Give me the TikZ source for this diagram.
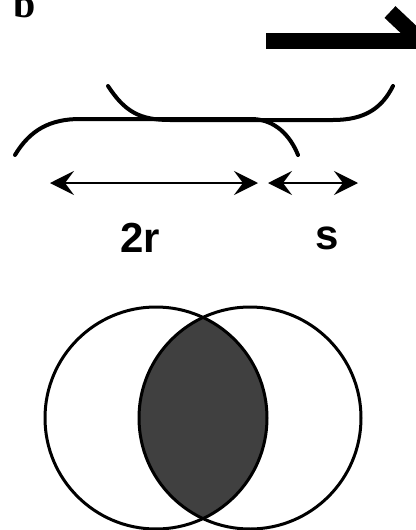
\documentclass[tikz,border=0pt]{standalone}
\usepackage{fontspec}
\newfontfamily\labelfont{Liberation Sans}
\newfontfamily\panelfont{Liberation Serif}
\usetikzlibrary{arrows.meta}
\tikzset{
  track/.style={line width=2pt, line cap=round},
  dim/.style={{Stealth[length=12pt,width=12pt,inset=4.5pt]}-{Stealth[length=12pt,width=12pt,inset=4.5pt]}, line width=0.75pt},
  lbl/.style={font=\labelfont\bfseries\fontsize{21}{21}\selectfont},
  ring/.style={circle, draw=black, line width=1.5pt, minimum size=111pt, inner sep=0pt}
}
\begin{document}
\begin{tikzpicture}[x=0.5pt, y=-0.5pt]
\useasboundingbox (0,0) rectangle (416,530);
\node[anchor=base, font=\panelfont\bfseries\fontsize{20}{20}\selectfont, inner sep=0pt] (panel) at (25,18) {b};
% direction of motion
\draw[line width=8pt] (266,41) -- (430,41);
\draw[line width=8pt] (390,12) -- (425,45);
% the two tracks
\draw[track] (108,86) .. controls (125,112) and (140,120) .. (170,120) -- (333,120) .. controls (365,120) and (382,108) .. (393,86);
\draw[track] (15,155) .. controls (30,130) and (50,119) .. (80,119) -- (253,119) .. controls (275,120) and (290,135) .. (298,155);
% distances
\coordinate (a) at (50,183);
\coordinate (b) at (258,183);
\coordinate (c) at (268,183);
\coordinate (d) at (358,183);
\draw[dim] (a) -- (b);
\draw[dim] (c) -- (d);
\node[lbl] (tworad) at (140,238) {2r};
\node[lbl] (gap) at (327,238) {s};
% overlap of the two
\begin{scope}
\clip (156,418) circle[radius=55.5pt];
\fill[black!75] (250,418) circle[radius=55.5pt];
\end{scope}
\node[ring] (left) at (156,418) {};
\node[ring] (right) at (250,418) {};
\end{tikzpicture}
\end{document}
